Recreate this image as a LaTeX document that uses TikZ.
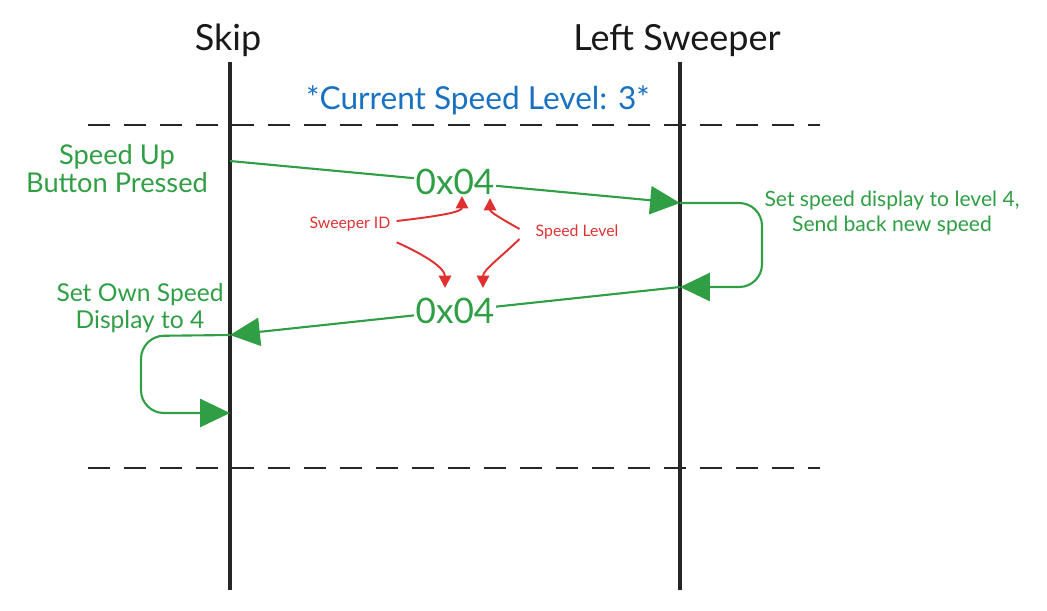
\documentclass[tikz,border=0pt]{standalone}
\usepackage{fontspec}
\setmainfont{Lato}
\usetikzlibrary{arrows.meta,positioning}
\definecolor{msggreen}{HTML}{2F9E44}
\definecolor{noteblue}{HTML}{1971C2}
\definecolor{notered}{HTML}{E03131}
\tikzset{
  actor/.style={font=\fontsize{20.5}{24}\selectfont,text=black!90},
  lifeline/.style={line width=2.1pt,black!85},
  phase/.style={line width=1.6pt,black!85,dash pattern=on 12.5pt off 8pt},
  msg/.style={line width=1.2pt,msggreen,-{Triangle[length=17pt,width=16pt]}},
  payload/.style={fill=white,text=msggreen,font=\fontsize{20}{22}\selectfont,inner sep=1pt},
  greennote/.style={text=msggreen,align=center},
  rednote/.style={text=notered,font=\fontsize{9}{11}\selectfont},
  hint/.style={line width=1.1pt,notered,-{Triangle[length=7pt,width=7pt]}},
}
\begin{document}
\begin{tikzpicture}[x=0.02cm,y=-0.02cm]
    \useasboundingbox (0,0) rectangle (1047,610);
    % actors and lifelines
    \node[actor] (skip) at (228,40) {Skip};
    \node[actor] (sweeper) at (677,40) {Left Sweeper};
    \coordinate (skipTop) at (230,62);
    \coordinate (skipBot) at (230,590);
    \coordinate (swTop) at (680,62);
    \coordinate (swBot) at (680,590);
    \draw[lifeline] (skipTop) -- (skipBot);
    \draw[lifeline] (swTop) -- (swBot);
    % phase
    \coordinate (phTopL) at (88,125);
    \coordinate (phTopR) at (820,125);
    \coordinate (phBotL) at (88,468);
    \coordinate (phBotR) at (820,468);
    \draw[phase] (phTopL) -- (phTopR);
    \draw[phase] (phBotL) -- (phBotR);
    \node[text=noteblue,font=\fontsize{18}{21}\selectfont] (state) at (478,100) {*Current Speed Level: 3*};
    % request
    \coordinate (reqS) at (230,161);
    \coordinate (reqE) at (680,203);
    \draw[msg] (reqS) -- node[payload] (req) {0x04} (reqE);
    \node[greennote,font=\fontsize{15.5}{16}\selectfont] (press) at (117,169) {Speed Up\\Button Pressed};
    % remote handling
    \coordinate (ackS) at (680,287);
    \coordinate (ackE) at (230,335);
    \draw[msg,rounded corners=13pt] (reqE) -- (762,203) -- (762,287) -- (ackS);
    \node[greennote,font=\fontsize{12}{14}\selectfont] (remote) at (892,213) {Set speed display to level 4,\\Send back new speed};
    % reply
    \draw[msg] (ackS) -- node[payload] (ack) {0x04} (ackE);
    \node[greennote,font=\fontsize{14}{15.5}\selectfont] (own) at (140,308) {Set Own Speed\\Display to 4};
    \coordinate (ownE) at (230,413);
    \draw[msg,rounded corners=13pt] (ackE) -- (141,336) -- (141,413) -- (ownE);
    % byte meaning
    \node[rednote] (sid) at (350,224) {Sweeper ID};
    \node[rednote] (lvl) at (577,232) {Speed Level};
    \coordinate (reqId) at (462,196);
    \coordinate (reqLvl) at (490,198);
    \coordinate (ackId) at (445,288);
    \coordinate (ackLvl) at (483,288);
    \draw[hint] (sid.east) ++(0,-3) .. controls (440,216) and (462,212) .. (reqId);
    \draw[hint] (sid.south east) ++(0,5) .. controls (425,255) and (445,268) .. (ackId);
    \draw[hint] (lvl.west) ++(-10,-3) .. controls (500,218) and (490,212) .. (reqLvl);
    \draw[hint] (lvl.west) ++(-10,7) .. controls (500,258) and (483,270) .. (ackLvl);
\end{tikzpicture}
\end{document}
